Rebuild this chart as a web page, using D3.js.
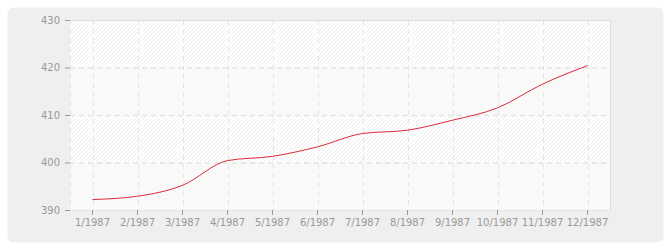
<!DOCTYPE html>
<html>
<head>
<meta charset="utf-8">
<script src="https://cdn.jsdelivr.net/npm/d3@7"></script>
<style>
  body { margin: 0; background: #fff; }
  svg { display: block; }
</style>
</head>
<body>
<div id="chart"></div>
<script>
// Data
var months = ["1/1987", "2/1987", "3/1987", "4/1987", "5/1987", "6/1987",
              "7/1987", "8/1987", "9/1987", "10/1987", "11/1987", "12/1987"];
var values = [392.2, 392.9, 395.2, 400.4, 401.3, 403.3,
              406.1, 406.8, 408.9, 411.5, 416.5, 420.4];
var yTicks = [390, 400, 410, 420, 430];

// Size
var W = 670, H = 250,
    margin = {top: 20, right: 60, bottom: 40, left: 70},
    width = W - margin.left - margin.right,
    height = H - margin.top - margin.bottom,
    font_family = "Verdana, 'DejaVu Sans', sans-serif";

var svg = d3.select("#chart").append("svg")
  .attr("width", W)
  .attr("height", H);

// Outer rounded background
svg.append("rect")
  .attr("x", 7.5).attr("y", 7.5)
  .attr("width", 656).attr("height", 235)
  .attr("rx", 6).attr("ry", 6)
  .attr("fill", "#efefef");

// Hatch pattern
var defs = svg.append("defs");
var pat = defs.append("pattern")
  .attr("id", "hatch")
  .attr("patternUnits", "userSpaceOnUse")
  .attr("width", 4).attr("height", 4);
pat.append("rect").attr("width", 4).attr("height", 4).attr("fill", "#ffffff");
pat.append("path")
  .attr("d", "M-1,1 l2,-2 M0,4 l4,-4 M3,5 l2,-2")
  .attr("stroke", "#eeeeee")
  .attr("stroke-width", 1);

var g = svg.append("g")
  .attr("transform", "translate(" + margin.left + "," + margin.top + ")");

// Scales
var x = d3.scaleBand().domain(months).range([0, width]);
var y = d3.scaleLinear().domain([390, 430]).range([height, 0]);
var xc = function(d) { return x(d) + x.bandwidth() / 2; };

// Plot background
g.append("rect")
  .attr("width", width).attr("height", height)
  .attr("fill", "url(#hatch)");

// Alternating lighter bands
var bands = d3.pairs(yTicks).filter(function(d, i) { return i % 2 == 0; });
g.selectAll(".band")
  .data(bands)
  .enter().append("rect")
  .attr("class", "band")
  .attr("x", 0)
  .attr("width", width)
  .attr("y", function(d) { return y(d[1]); })
  .attr("height", function(d) { return y(d[0]) - y(d[1]); })
  .attr("fill", "#f8f8f8")
  .attr("fill-opacity", 0.75);

// Grid
g.selectAll(".hgrid")
  .data(yTicks.slice(1, -1))
  .enter().append("line")
  .attr("x1", 0).attr("x2", width)
  .attr("y1", function(d) { return y(d) + 0.5; })
  .attr("y2", function(d) { return y(d) + 0.5; })
  .attr("stroke", "#e4e4e4")
  .attr("stroke-width", 1.5)
  .attr("stroke-dasharray", "5,4");

g.selectAll(".vgrid")
  .data(months)
  .enter().append("line")
  .attr("x1", function(d) { return Math.round(xc(d)) + 0.5; })
  .attr("x2", function(d) { return Math.round(xc(d)) + 0.5; })
  .attr("y1", 0).attr("y2", height)
  .attr("stroke", "#e4e4e4")
  .attr("stroke-width", 1)
  .attr("stroke-dasharray", "5,4");

g.append("line")
  .attr("x1", 0.5).attr("x2", 0.5)
  .attr("y1", 0).attr("y2", height)
  .attr("stroke", "#e4e4e4")
  .attr("stroke-dasharray", "5,4");

// Top and right border
g.append("path")
  .attr("d", "M0.5,0.5 H" + (width + 0.5) + " V" + height)
  .attr("fill", "none")
  .attr("stroke", "#dddddd");

g.append("line")
  .attr("x1", 0).attr("x2", width + 1)
  .attr("y1", height + 0.5).attr("y2", height + 0.5)
  .attr("stroke", "#e4e4e4");

// Axes
var yAxis = g.append("g")
  .call(d3.axisLeft(y).tickValues(yTicks).tickSize(5).tickPadding(5));
var xAxis = g.append("g")
  .attr("transform", "translate(0," + height + ")")
  .call(d3.axisBottom(x).tickSize(5).tickPadding(4));

[yAxis, xAxis].forEach(function(a) {
  a.select(".domain").remove();
  a.selectAll("line").attr("stroke", "#999999");
  a.selectAll("text")
    .attr("fill", "#999999")
    .attr("font-family", font_family)
    .attr("font-size", "10px");
});

// Line
var line = d3.line()
  .x(function(d, i) { return xc(months[i]); })
  .y(function(d) { return y(d); })
  .curve(d3.curveMonotoneX);

g.append("path")
  .datum(values)
  .attr("d", line)
  .attr("fill", "none")
  .attr("stroke", "#dd2a3c")
  .attr("stroke-width", 1);
</script>
</body>
</html>
